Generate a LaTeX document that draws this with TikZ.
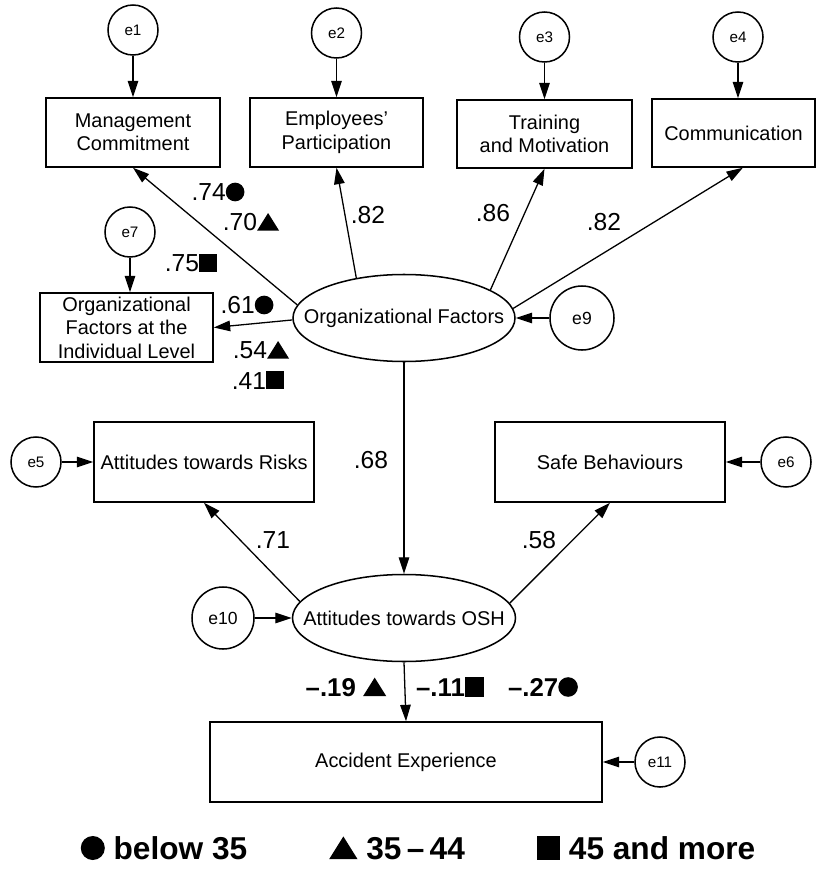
\documentclass[tikz,border=0pt]{standalone}
\usepackage{fontspec}
\setmainfont{Liberation Sans}
\usetikzlibrary{arrows.meta,shapes.geometric}

\newcommand{\agecirc}{\tikz[baseline=0pt]\fill (0.4em,0.36em) circle (0.38em);}
\newcommand{\agetri}{\tikz[baseline=0pt]\fill (0,0) -- (0.9em,0) -- (0.45em,0.72em) -- cycle;}
\newcommand{\agesq}{\tikz[baseline=0pt]\fill (0,0) rectangle (0.74em,0.74em);}

\begin{document}
\begin{tikzpicture}[x=0.03cm, y=-0.03cm,
		obs/.style={draw, line width=1.3pt, align=center, inner sep=1pt, font=\fontsize{17}{20}\selectfont},
		lat/.style={draw, ellipse, line width=1.3pt, inner sep=0pt, font=\fontsize{17}{20}\selectfont},
		err/.style={draw, circle, line width=1.3pt, inner sep=0pt, minimum size=1.5cm, font=\fontsize{13}{15}\selectfont},
		load/.style={line width=1.1pt, -{Triangle[length=14pt, width=9pt]}},
		coef/.style={font=\fontsize{21}{24}\selectfont, inner sep=0pt},
		bcoef/.style={font=\fontsize{22}{24}\selectfont\bfseries, inner sep=0pt}]
		\useasboundingbox (0, 0) rectangle (817, 870);
		% observed variables
		\node[obs, minimum width=5.22cm, minimum height=2.07cm] (mc) at (133, 132.5) {Management\\Commitment};
		\node[obs, minimum width=5.19cm, minimum height=2.07cm] (ep) at (336.5, 132.5) {Employees'\\Participation};
		\node[obs, minimum width=5.25cm, minimum height=2.04cm] (tm) at (544.5, 134) {Training\\and Motivation};
		\node[obs, minimum width=4.89cm, minimum height=2.04cm] (co) at (733.5, 133) {Communication};
		\node[obs, minimum width=5.19cm, minimum height=2.07cm] (ofil) at (126.5, 327.5) {Organizational\\Factors at the\\Individual Level};
		\node[obs, minimum width=6.6cm, minimum height=2.4cm] (ar) at (204, 462) {Attitudes towards Risks};
		\node[obs, minimum width=6.9cm, minimum height=2.4cm] (sb) at (610, 462) {Safe Behaviours};
		\node[obs, minimum width=11.76cm, minimum height=2.4cm] (ae) at (406, 762) {Accident Experience};
		% latent variables
		\node[lat, minimum width=6.66cm, minimum height=2.61cm] (of) at (404, 318) {\makebox[0pt]{Organizational Factors}};
		\node[lat, minimum width=6.69cm, minimum height=2.61cm] (osh) at (404, 618) {\makebox[0pt]{Attitudes towards OSH}};
		% error terms
		\node[err] (e1) at (133, 30) {e1};
		\node[err] (e2) at (336.5, 33) {e2};
		\node[err] (e3) at (544.5, 37) {e3};
		\node[err] (e4) at (738, 37) {e4};
		\node[err] (e7) at (130, 232) {e7};
		\node[err] (e5) at (36, 462) {e5};
		\node[err] (e6) at (786, 462) {e6};
		\node[err] (e11) at (660, 762) {e11};
		\node[err, minimum size=1.92cm, font=\fontsize{15}{17}\selectfont] (e9) at (582, 318) {e9};
		\node[err, minimum size=1.86cm, font=\fontsize{15}{17}\selectfont] (e10) at (223, 618) {e10};
		\foreach \i/\t in {1/mc, 2/ep, 3/tm, 4/co, 7/ofil} {
			\draw[load] (e\i) -- (e\i |- \t.north);
		}
		\draw[load] (e9) -- (of);
		\draw[load] (e10) -- (osh);
		\draw[load] (e5) -- (ar.west);
		\draw[load] (e6) -- (sb.east);
		\draw[load] (e11) -- (ae.east);
		% paths
		\draw[load] (of.173) -- (mc.south);
		\draw[load] (of.140) -- (ep.south);
		\draw[load] (of.18) -- (tm.south);
		\draw[load] (of.5) -- ([xshift=0.28cm]co.south);
		\draw[load] (of.181) -- (ofil.east);
		\draw[load] (of.south) -- (osh.north);
		\draw[load] (osh.171) -- (ar.south);
		\draw[load] (osh.8) -- (sb.south);
		\draw[load] (osh.south) -- (ae.north);
		% coefficients
		\node[coef] (c74) at (218, 192) {.74\agecirc};
		\node[coef] (c70) at (251, 222) {.70\agetri};
		\node[coef] (c75) at (191, 263) {.75\agesq};
		\node[coef] (c82a) at (368, 215) {.82};
		\node[coef] (c86) at (493, 213) {.86};
		\node[coef] (c82b) at (604, 222) {.82};
		\node[coef] (c61) at (247, 305) {.61\agecirc};
		\node[coef] (c54) at (261, 350) {.54\agetri};
		\node[coef] (c41) at (258, 380) {.41\agesq};
		\node[coef] (c68) at (371, 460) {.68};
		\node[coef] (c71) at (273, 540) {.71};
		\node[coef] (c58) at (539, 540) {.58};
		\node[bcoef] (c19) at (346, 687) {--.19 \agetri};
		\node[bcoef] (c11) at (450, 687) {--.11\agesq};
		\node[bcoef] (c27) at (543, 687) {--.27\agecirc};
		% legend
		\node[font=\fontsize{27}{30}\selectfont\bfseries, inner sep=0pt] (lg1) at (164, 848) {\agecirc\ below 35};
		\node[font=\fontsize{27}{30}\selectfont\bfseries, inner sep=0pt] (lg2) at (397, 848) {\agetri\ 35\,--\,44};
		\node[font=\fontsize{27}{30}\selectfont\bfseries, inner sep=0pt] (lg3) at (646, 848) {\agesq\ 45 and more};
	\end{tikzpicture}
\end{document}
